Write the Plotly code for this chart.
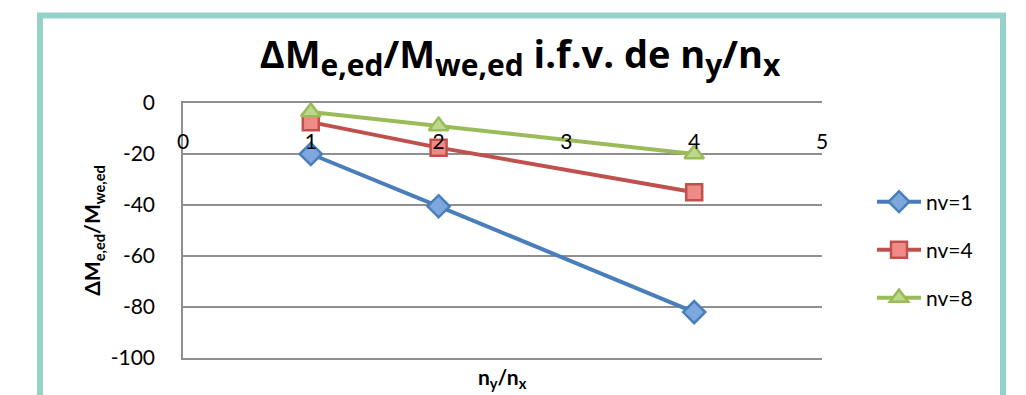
import plotly.graph_objects as go

# Ratio n_y/n_x on the horizontal axis
ratio = [1, 2, 4]

# Relative moment change for each number of storeys
nv1 = [-20, -40.5, -82]
nv4 = [-7.5, -17.5, -35]
nv8 = [-3.5, -9, -20]

series_names = ["nv=1", "nv=4", "nv=8"]
x_ticks = [0, 1, 2, 3, 4, 5]
y_ticks = [0, -20, -40, -60, -80, -100]

W, H = 1026, 395
L, R, T, B = 183, 822, 103, 358  # plot area in pixels


def px(x):
    return (x - L) / (R - L)


def py(y):
    return (B - y) / (B - T)


def sub(s, size):
    return f"<sub><span style='font-size:{size}px'>{s}</span></sub>"


FONT = "Lato, 'Open Sans', sans-serif"
TITLE_FONT = "'Open Sans', Lato, sans-serif"
GRID = "#8f8f8f"

styles = [
    dict(line="#4A7EBB", fill="#7DA7DD", symbol="diamond", size=17),
    dict(line="#C0504D", fill="#F08A86", symbol="square", size=16),
    dict(line="#9BBB59", fill="#BCD88A", symbol="triangle-up", size=17),
]

fig = go.Figure()
legend_ids = ["legend", "legend2", "legend3"]
for name, vals, st, lg in zip(series_names, [nv1, nv4, nv8], styles, legend_ids):
    fig.add_trace(go.Scatter(
        x=ratio, y=vals, name=name, mode="lines+markers",
        line=dict(color=st["line"], width=4),
        marker=dict(symbol=st["symbol"], size=st["size"], color=st["fill"],
                    line=dict(color=st["line"], width=2.5)),
        legend=lg,
    ))

# invisible helper trace that carries the framing x-axis (lines at 0 and -100)
fig.add_trace(go.Scatter(x=[0], y=[None], xaxis="x2", showlegend=False,
                         hoverinfo="skip"))

legend_common = dict(
    x=px(872), xanchor="left", yanchor="middle",
    font=dict(family=FONT, size=21, color="#000000"),
    bgcolor="rgba(0,0,0,0)", itemwidth=44,
)

title_text = (f"ΔM{sub('e,ed', 30)}/M{sub('we,ed', 30)} i.f.v. de "
              f"n{sub('y', 30)}/n{sub('x', 30)}")

fig.update_layout(
    width=W, height=H,
    margin=dict(l=L, r=W - R, t=T, b=H - B),
    paper_bgcolor="white", plot_bgcolor="white",
    font=dict(family=FONT, color="#000000"),
    title=dict(
        text=title_text,
        font=dict(family=TITLE_FONT, size=38, color="#000000", weight="bold"),
        x=520 / W, xanchor="center", xref="container",
        y=1 - 55 / H, yanchor="middle",
    ),
    legend=dict(y=py(202), **legend_common),
    legend2=dict(y=py(250), **legend_common),
    legend3=dict(y=py(298), **legend_common),
    xaxis=dict(
        range=[0, 5], tickvals=x_ticks, ticktext=[str(v) for v in x_ticks],
        showgrid=False, zeroline=False, showline=False, ticks="",
        anchor="free", position=py(127),
        tickfont=dict(family=FONT, size=21, color="#000000"),
    ),
    xaxis2=dict(
        range=[0, 5], overlaying="x", anchor="y", showgrid=False,
        zeroline=False, showline=True, mirror=True, linecolor=GRID,
        linewidth=1.5, showticklabels=False, ticks="",
    ),
    yaxis=dict(
        range=[-100, 0], tickvals=y_ticks, ticktext=[str(v) for v in y_ticks],
        showgrid=True, gridcolor=GRID, gridwidth=1.5,
        zeroline=False, showline=True, linecolor=GRID, linewidth=1.5,
        ticks="", ticklabelstandoff=22,
        tickfont=dict(family=FONT, size=21, color="#000000"),
        title=dict(
            text="ΔM<sub>e,ed</sub>/M<sub>we,ed</sub>",
            font=dict(family=FONT, size=21, color="#000000", weight="bold"),
            standoff=4,
        ),
    ),
    showlegend=True,
)

# x-axis title below the plot area
fig.add_annotation(
    text="n<sub>y</sub>/n<sub>x</sub>", xref="paper", yref="paper",
    x=0.5, y=py(378), xanchor="center", yanchor="middle", showarrow=False,
    font=dict(family=FONT, size=21, color="#000000", weight="bold"),
)

# frame around the chart
fig.add_shape(
    type="rect", xref="paper", yref="paper",
    x0=px(40), x1=px(1003), y0=py(430), y1=py(15.5),
    line=dict(color="#95D0C9", width=6), fillcolor="rgba(0,0,0,0)", layer="below",
)

fig.write_html("out.html")
